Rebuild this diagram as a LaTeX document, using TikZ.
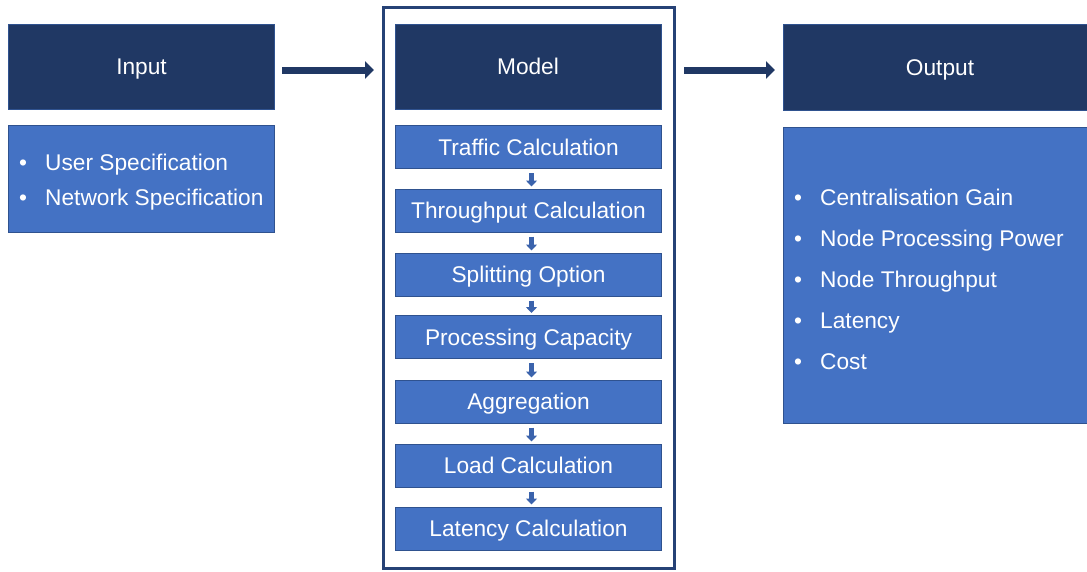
\documentclass[tikz,border=0pt]{standalone}
\usepackage{fontspec}
\setmainfont{Liberation Sans}
\usetikzlibrary{arrows.meta}
\definecolor{navy}{RGB}{32,56,100}
\definecolor{midblue}{RGB}{68,114,196}
\definecolor{edgeblue}{RGB}{47,82,143}
\definecolor{framecol}{RGB}{38,66,118}
\newcommand{\bul}{\hspace*{11pt}\makebox[26pt][l]{\textbullet}}
\begin{document}
\begin{tikzpicture}[x=1pt,y=-1pt,
  head/.style={draw=edgeblue,line width=1pt,fill=navy,text=white,minimum height=85pt,inner sep=0pt,text height=18pt,text depth=2pt,font=\fontsize{22.7}{27}\selectfont},
  stepbox/.style={draw=edgeblue,line width=1pt,fill=midblue,text=white,minimum width=266pt,minimum height=43pt,inner sep=0pt,text height=18pt,text depth=2pt,font=\fontsize{22.7}{27}\selectfont},
  listbox/.style={draw=edgeblue,line width=1pt,fill=midblue,inner sep=0pt},
  listtext/.style={text=white,align=left,inner sep=0pt,anchor=west},
  bigarrow/.style={navy,line width=7pt,-{Triangle[length=9pt,width=17pt]}},
  smallarrow/.style={midblue!75!navy,line width=4.5pt,-{Triangle[length=6pt,width=11pt]},shorten <=4pt,shorten >=2pt}]
\useasboundingbox (0,0) rectangle (1087,571);
\clip (0,0) rectangle (1087,571);

\node [head,minimum width=266pt] (inhead) at (141.5,66.5) {Input};
\node [listbox,minimum width=266pt,minimum height=107pt] (inlist) at (141.5,179) {};
\node [listtext,font=\fontsize{22.7}{35}\selectfont] (intext) at ([yshift=-3.5pt]inlist.west) {\bul User Specification\\ \bul Network Specification};

\node [draw=framecol,line width=3pt,minimum width=291pt,minimum height=561pt,inner sep=0pt] (frame) at (529,288) {};
\node [head,minimum width=266pt] (modhead) at (528,66.5) {Model};
\node [stepbox] (s1) at (528.5,147) {Traffic Calculation};
\node [stepbox] (s2) at (528.5,210.5) {Throughput Calculation};
\node [stepbox] (s3) at (528.5,274.5) {Splitting Option};
\node [stepbox] (s4) at (528.5,337) {Processing Capacity};
\node [stepbox] (s5) at (528.5,401.5) {Aggregation};
\node [stepbox] (s6) at (528.5,465.5) {Load Calculation};
\node [stepbox] (s7) at (528.5,528.5) {Latency Calculation};
\draw [smallarrow] ([xshift=3pt]s1.south) -- ([xshift=3pt]s2.north);
\draw [smallarrow] ([xshift=3pt]s2.south) -- ([xshift=3pt]s3.north);
\draw [smallarrow] ([xshift=3pt]s3.south) -- ([xshift=3pt]s4.north);
\draw [smallarrow] ([xshift=3pt]s4.south) -- ([xshift=3pt]s5.north);
\draw [smallarrow] ([xshift=3pt]s5.south) -- ([xshift=3pt]s6.north);
\draw [smallarrow] ([xshift=3pt]s6.south) -- ([xshift=3pt]s7.north);

\node [head,minimum width=313pt,minimum height=86pt] (outhead) at (940,67) {Output};
\node [listbox,minimum width=313pt,minimum height=296pt] (outlist) at (940,275) {};
\node [listtext,font=\fontsize{22.7}{41}\selectfont] (outtext) at ([yshift=-4pt]outlist.west) {\bul Centralisation Gain\\ \bul Node Processing Power\\ \bul Node Throughput\\ \bul Latency\\ \bul Cost};

\draw [bigarrow,shorten <=7pt,shorten >=8pt] ([yshift=-3.5pt]inhead.east) -- ([yshift=-3.5pt]inhead.east -| frame.west);
\draw [bigarrow,shorten <=8pt,shorten >=8pt] ([yshift=-3pt]outhead.west -| frame.east) -- ([yshift=-3pt]outhead.west);
\end{tikzpicture}
\end{document}
